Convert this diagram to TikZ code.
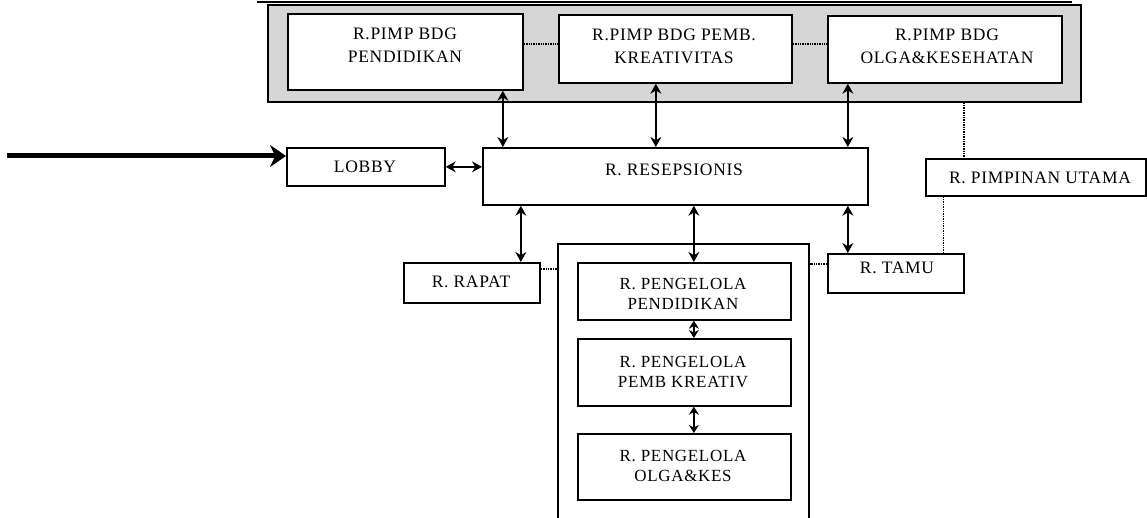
\documentclass[tikz,border=0pt]{standalone}
\usepackage{fontspec}
\setmainfont{Liberation Serif}[LetterSpace=4]
\usetikzlibrary{arrows.meta,calc}
\begin{document}
\begin{tikzpicture}[x=1pt,y=-1pt,
 box/.style={draw=black,line width=1.7pt,inner sep=0pt,anchor=north west},
 lbl/.style={font=\fontsize{17.5}{23}\selectfont,align=center,inner sep=0pt},
 lbltwo/.style={font=\fontsize{17}{20}\selectfont,align=center,inner sep=0pt},
 arr/.style={line width=1.5pt,{Stealth[length=10pt,width=11pt]}-{Stealth[length=10pt,width=11pt]}},
 arrsmall/.style={line width=1.5pt,{Stealth[length=8pt,width=10pt]}-{Stealth[length=8pt,width=10pt]}},
 dotline/.style={densely dotted,line width=1.4pt},
 bigarr/.style={line width=5pt,-{Stealth[length=16pt,width=22pt]}},
 ]
\useasboundingbox (0,0) rectangle (1147,518);
% top line
\draw[line width=2.5pt] (257,2) -- (1072,2);
% panel and boxes
\node[box, fill=gray!32, minimum width=813pt, minimum height=97pt] (panel) at (267,4) {};
\node[box, fill=white, minimum width=235pt, minimum height=76pt] (b1) at (287,13) {};
\node[box, fill=white, minimum width=233pt, minimum height=68pt] (b2) at (558,14) {};
\node[box, fill=white, minimum width=234pt, minimum height=67pt] (b3) at (827,15) {};
\node[box, minimum width=158pt, minimum height=38pt] (lobby) at (286,147) {};
\node[box, minimum width=385pt, minimum height=57pt] (resep) at (482,147) {};
\node[box, minimum width=220pt, minimum height=37pt] (pimp) at (925,158) {};
\node[box, minimum width=136pt, minimum height=40pt] (rapat) at (403,262) {};
\node[box, minimum width=136pt, minimum height=39pt] (tamu) at (827,253) {};
\node[box, minimum width=251pt, minimum height=290pt] (cont) at (557,243) {};
\node[box, minimum width=213pt, minimum height=57pt] (p1) at (577,262) {};
\node[box, minimum width=213pt, minimum height=67pt] (p2) at (577,338) {};
\node[box, minimum width=213pt, minimum height=66pt] (p3) at (577,433) {};
% labels
\node[lbl] (t1) at (405,45) {R.PIMP BDG\\PENDIDIKAN};
\node[lbl] (t2) at (674,46) {R.PIMP BDG PEMB.\\KREATIVITAS};
\node[lbl] (t3) at (947,46) {R.PIMP BDG\\OLGA\&KESEHATAN};
\node[lbl] (tl) at (365,167) {LOBBY};
\node[lbl] (tr) at (674,170) {R. RESEPSIONIS};
\node[lbl] (tp) at (1040,178) {R. PIMPINAN UTAMA};
\node[lbl] (tra) at (471,282) {R. RAPAT};
\node[lbl] (tt) at (897,268) {R. TAMU};
\node[lbltwo] (tp1) at (683,294) {R. PENGELOLA\\PENDIDIKAN};
\node[lbltwo] (tp2) at (683,372) {R. PENGELOLA\\PEMB KREATIV};
\node[lbltwo] (tp3) at (683,466) {R. PENGELOLA\\OLGA\&KES};
% dotted links
\draw[dotline] ([yshift=8pt]b1.east) -- ([yshift=8pt]b1.east -| b2.west);
\draw[dotline] ([yshift=5pt]b2.east) -- ([yshift=5pt]b2.east -| b3.west);
\draw[dotline] ([xshift=289.5pt]panel.south) -- ([xshift=289.5pt]panel.south |- pimp.north);
\draw[dotline] ([xshift=-92.5pt]pimp.south) -- ([xshift=-92.5pt]pimp.south |- tamu.north);
\draw[dotline] ([yshift=14pt]rapat.east) -- ([yshift=14pt]rapat.east -| cont.west);
\draw[dotline] ([yshift=9.5pt]tamu.west) -- ([yshift=9.5pt]tamu.west -| cont.east);
% entrance arrow
\coordinate (start) at (7,156);
\draw[bigarr] (start) -- (start -| lobby.west);
% arrows
\draw[arr] (lobby.east) -- (lobby.east -| resep.west);
\draw[arr] ([xshift=97.5pt]b1.south) -- ([xshift=97.5pt]b1.south |- resep.north);
\draw[arr] ([xshift=-19.5pt]b2.south) -- ([xshift=-19.5pt]b2.south |- resep.north);
\draw[arr] ([xshift=-97pt]b3.south) -- ([xshift=-97pt]b3.south |- resep.north);
\draw[arr] ([xshift=-154.5pt]resep.south) -- ([xshift=-154.5pt]resep.south |- rapat.north);
\draw[arr] ([xshift=18.5pt]resep.south) -- ([xshift=18.5pt]resep.south |- p1.north);
\draw[arr] ([xshift=172.5pt]resep.south) -- ([xshift=172.5pt]resep.south |- tamu.north);
\draw[arrsmall] ([xshift=9.5pt]p1.south) -- ([xshift=9.5pt]p1.south |- p2.north);
\draw[arrsmall] ([xshift=9.5pt]p2.south) -- ([xshift=9.5pt]p2.south |- p3.north);
\end{tikzpicture}
\end{document}
